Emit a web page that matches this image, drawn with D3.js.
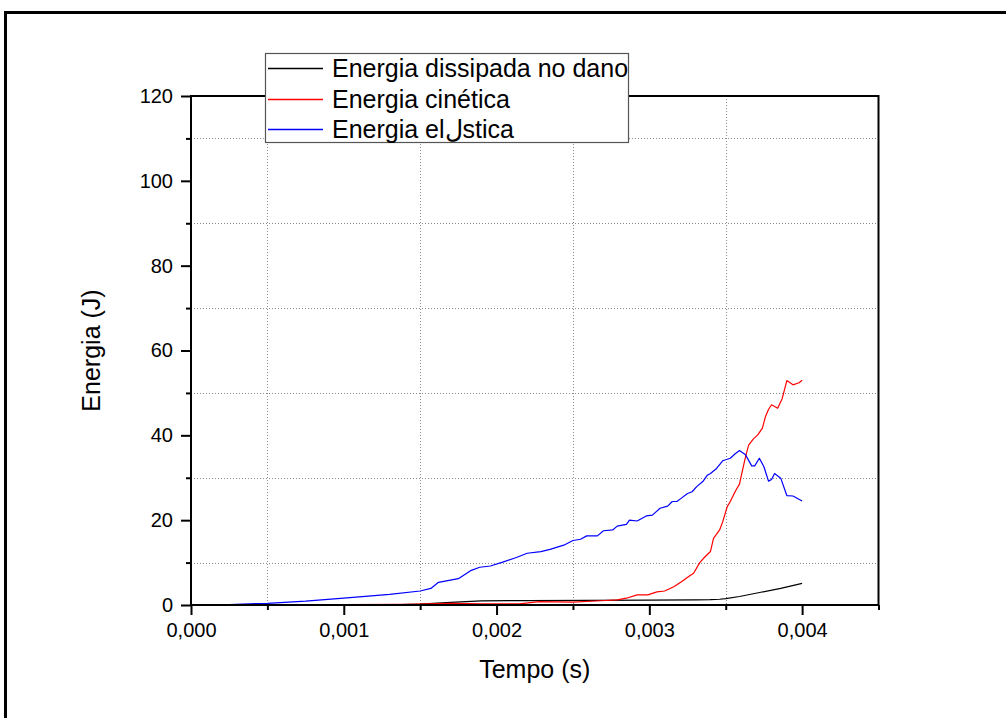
<!DOCTYPE html>
<html>
<head>
<meta charset="utf-8">
<script src="https://cdn.jsdelivr.net/npm/d3@7"></script>
<style>
  html, body { margin: 0; padding: 0; background: #fff; }
  svg { display: block; font-family: "Liberation Sans", Arial, sans-serif; }
</style>
</head>
<body>
<svg id="chart" width="1006" height="718"></svg>
<script>
// Energy histories (time in s, energy in J)
const dissipadaTime = [0, 0.0010, 0.0013, 0.0015, 0.0017, 0.0019, 0.0022, 0.0026, 0.0030, 0.0033, 0.0034, 0.00346, 0.0035, 0.00359, 0.00373, 0.00386, 0.0040];
const dissipadaEnergy = [0, 0.02, 0.05, 0.2, 0.6, 0.95, 1.05, 1.1, 1.15, 1.2, 1.25, 1.35, 1.5, 2.0, 3.0, 3.9, 5.1];

const cineticaTime = [0, 0.0005, 0.0010, 0.0014, 0.0017, 0.00191, 0.00215, 0.00228, 0.0025, 0.00268, 0.00279, 0.00285, 0.00292, 0.00299, 0.00305, 0.0031, 0.00316, 0.00321, 0.00326, 0.00329, 0.00333, 0.00336, 0.0034, 0.00342, 0.00346, 0.00348, 0.00351, 0.00353, 0.00355, 0.00357, 0.00359, 0.00361, 0.00363, 0.00365, 0.00368, 0.00371, 0.00374, 0.00376, 0.00378, 0.0038, 0.00384, 0.00387, 0.0039, 0.00394, 0.00398, 0.0040];
const cineticaEnergy = [0, 0.03, 0.08, 0.15, 0.4, 0.25, 0.25, 0.8, 0.7, 1.0, 1.2, 1.6, 2.4, 2.4, 3.1, 3.3, 4.3, 5.5, 6.8, 7.5, 10.0, 11.2, 12.6, 15.7, 17.7, 19.6, 23.2, 24.4, 25.9, 27.3, 28.5, 31.8, 35.0, 37.7, 39.1, 40.1, 41.7, 44.4, 46.1, 47.2, 46.4, 48.7, 52.9, 51.9, 52.4, 53.0];

const elasticaTime = [0, 0.00025, 0.0005, 0.00075, 0.0010, 0.0012, 0.0013, 0.0015, 0.00157, 0.00162, 0.00175, 0.00183, 0.00189, 0.00196, 0.00204, 0.00213, 0.0022, 0.00229, 0.00235, 0.00244, 0.0025, 0.00255, 0.00259, 0.00266, 0.0027, 0.00276, 0.00279, 0.00285, 0.00287, 0.00292, 0.00298, 0.00302, 0.00307, 0.00312, 0.00315, 0.00318, 0.00321, 0.00325, 0.00328, 0.00331, 0.00335, 0.00338, 0.0034, 0.00344, 0.00348, 0.00353, 0.00356, 0.00359, 0.00363, 0.00367, 0.00369, 0.00372, 0.00375, 0.00378, 0.0038, 0.00382, 0.00386, 0.0039, 0.00394, 0.0040];
const elasticaEnergy = [0, 0.12, 0.4, 0.9, 1.6, 2.2, 2.5, 3.3, 3.9, 5.35, 6.2, 8.1, 8.9, 9.2, 10.1, 11.2, 12.2, 12.6, 13.1, 14.1, 15.2, 15.5, 16.3, 16.3, 17.5, 17.7, 18.6, 19.0, 20.0, 19.8, 21.0, 21.2, 22.8, 23.3, 24.4, 24.4, 25.2, 26.3, 26.7, 27.9, 29.1, 30.6, 31.0, 32.2, 34.0, 34.6, 35.6, 36.4, 35.4, 32.8, 32.8, 34.6, 32.6, 29.2, 29.6, 31.0, 29.9, 25.8, 25.7, 24.5];

const seriesNames = ["Energia dissipada no dano", "Energia cinética", "Energia elلstica"];
const seriesColors = ["#000000", "#ff0000", "#0000ff"];

const xTicks = [0, 0.001, 0.002, 0.003, 0.004];
const xTickLabels = ["0,000", "0,001", "0,002", "0,003", "0,004"];
const xMinor = [0.0005, 0.0015, 0.0025, 0.0035, 0.0045];
const yTicks = [0, 20, 40, 60, 80, 100, 120];
const yMinor = [10, 30, 50, 70, 90, 110];

const svg = d3.select("#chart");
const plot = { left: 191, right: 878.5, top: 96, bottom: 605 };

const x = d3.scaleLinear().domain([0, 0.0045]).range([plot.left, plot.right]);
const y = d3.scaleLinear().domain([0, 120]).range([plot.bottom, plot.top]);

// outer page frame
svg.append("path")
  .attr("d", "M5.5,718 L5.5,12.5 L1006,12.5")
  .attr("fill", "none").attr("stroke", "#000").attr("stroke-width", 3);

// dotted grid at minor positions
const grid = svg.append("g").attr("stroke", "#8a8a8a").attr("stroke-width", 1)
  .attr("stroke-dasharray", "1,2");
grid.selectAll("line.gx").data(xMinor.filter(d => d < 0.0045)).join("line")
  .attr("x1", d => Math.round(x(d)) + 0.5).attr("x2", d => Math.round(x(d)) + 0.5)
  .attr("y1", plot.top).attr("y2", plot.bottom);
grid.selectAll("line.gy").data(yMinor).join("line")
  .attr("y1", d => Math.round(y(d)) + 0.5).attr("y2", d => Math.round(y(d)) + 0.5)
  .attr("x1", plot.left).attr("x2", plot.right);

// series lines, drawn in legend order
const seriesData = [
  d3.zip(dissipadaTime, dissipadaEnergy),
  d3.zip(cineticaTime, cineticaEnergy),
  d3.zip(elasticaTime, elasticaEnergy)
];
const line = d3.line().x(d => x(d[0])).y(d => y(d[1]));
seriesData.forEach((data, i) => {
  svg.append("path").datum(data)
    .attr("d", line)
    .attr("fill", "none")
    .attr("stroke", seriesColors[i])
    .attr("stroke-width", 1.2)
    .attr("stroke-linejoin", "round");
});

// axes
const axisFont = "20px";
const xAxis = d3.axisBottom(x).tickValues(xTicks).tickFormat((d, i) => xTickLabels[i])
  .tickSizeInner(10).tickSizeOuter(0).tickPadding(8);
const gx = svg.append("g").attr("transform", `translate(0,${plot.bottom})`).call(xAxis);
const xMinorAxis = d3.axisBottom(x).tickValues(xMinor).tickFormat("").tickSizeInner(5).tickSizeOuter(0);
const gxm = svg.append("g").attr("transform", `translate(0,${plot.bottom})`).call(xMinorAxis);

const yAxis = d3.axisLeft(y).tickValues(yTicks).tickSizeInner(10).tickSizeOuter(0).tickPadding(8);
const gy = svg.append("g").attr("transform", `translate(${plot.left},0)`).call(yAxis);
const yMinorAxis = d3.axisLeft(y).tickValues(yMinor).tickFormat("").tickSizeInner(5).tickSizeOuter(0);
const gym = svg.append("g").attr("transform", `translate(${plot.left},0)`).call(yMinorAxis);

[gx, gxm, gy, gym].forEach(g => {
  g.select(".domain").remove();
  g.selectAll(".tick line").attr("stroke", "#000").attr("stroke-width", 2);
  g.selectAll(".tick text").attr("fill", "#000").style("font-size", axisFont)
    .style("font-family", "'Liberation Sans', Arial, sans-serif");
});

// frame around the plot area
svg.append("rect")
  .attr("x", plot.left).attr("y", plot.top)
  .attr("width", plot.right - plot.left).attr("height", plot.bottom - plot.top)
  .attr("fill", "none").attr("stroke", "#000").attr("stroke-width", 2);

// axis titles
svg.append("text")
  .attr("x", (plot.left + plot.right) / 2).attr("y", 678)
  .attr("text-anchor", "middle").style("font-size", "25px")
  .text("Tempo (s)");
svg.append("text")
  .attr("transform", `translate(100,${(plot.top + plot.bottom) / 2}) rotate(-90)`)
  .attr("text-anchor", "middle").style("font-size", "25px")
  .text("Energia (J)");

// legend
const legend = svg.append("g");
legend.append("rect")
  .attr("x", 265.5).attr("y", 53.5).attr("width", 363).attr("height", 89)
  .attr("fill", "#fff").attr("stroke", "#555").attr("stroke-width", 1.2);
const rowY = [68, 99, 129];
seriesNames.forEach((name, i) => {
  legend.append("line")
    .attr("x1", 268).attr("x2", 323).attr("y1", rowY[i] + 0.5).attr("y2", rowY[i] + 0.5)
    .attr("stroke", seriesColors[i]).attr("stroke-width", 1.5);
  legend.append("text")
    .attr("x", 332).attr("y", rowY[i] + 9)
    .style("font-size", "25px")
    .text(name);
});
</script>
</body>
</html>
